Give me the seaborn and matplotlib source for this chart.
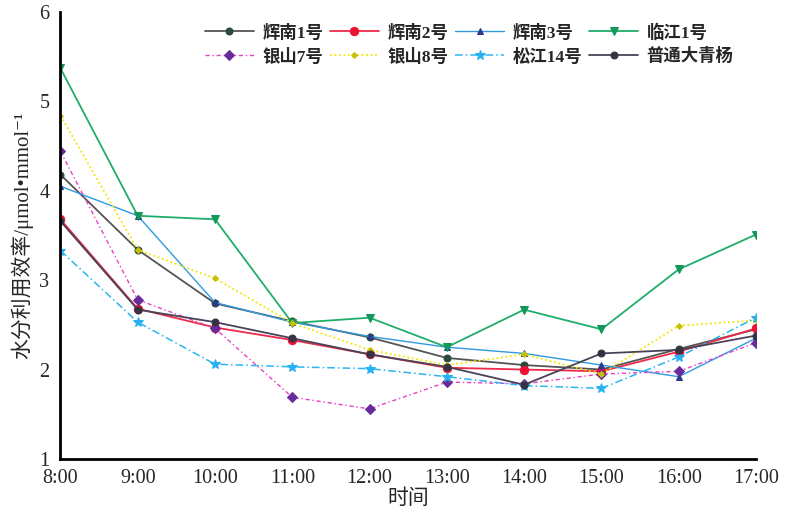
import matplotlib
matplotlib.use("Agg")
import matplotlib.pyplot as plt
import seaborn as sns
import pandas as pd

times = ["8:00", "9:00", "10:00", "11:00", "12:00", "13:00", "14:00", "15:00", "16:00", "17:00"]
hours = [8, 9, 10, 11, 12, 13, 14, 15, 16, 17]

huinan1 = [4.18, 3.34, 2.74, 2.54, 2.36, 2.13, 2.05, 2.00, 2.23, 2.45]
huinan2 = [3.68, 2.68, 2.47, 2.33, 2.17, 2.02, 2.00, 1.98, 2.20, 2.46]
huinan3 = [4.05, 3.72, 2.75, 2.53, 2.37, 2.25, 2.18, 2.05, 1.92, 2.35]
linjiang1 = [5.37, 3.72, 3.68, 2.52, 2.58, 2.25, 2.67, 2.45, 3.12, 3.51]
yinshan7 = [4.44, 2.78, 2.46, 1.69, 1.56, 1.86, 1.84, 1.95, 1.98, 2.30]
yinshan8 = [4.84, 3.34, 3.02, 2.52, 2.22, 2.05, 2.17, 1.95, 2.49, 2.55]
songjiang14 = [3.33, 2.53, 2.06, 2.03, 2.01, 1.92, 1.82, 1.79, 2.14, 2.58]
putong = [3.66, 2.67, 2.53, 2.35, 2.17, 2.03, 1.83, 2.18, 2.22, 2.38]

names = ["辉南1号", "辉南2号", "辉南3号", "临江1号", "银山7号", "银山8号", "松江14号", "普通大青杨"]
series = [huinan1, huinan2, huinan3, linjiang1, yinshan7, yinshan8, songjiang14, putong]

line_colors = ["#555555", "#ee2a4a", "#2e9be0", "#1fae6a", "#e83fc4", "#f2e600", "#29b6f2", "#4a4358"]
marker_colors = ["#2c4a3a", "#ee1133", "#2b3a8c", "#12995a", "#6a2a9a", "#c8c000", "#29b0f0", "#333344"]
markers = ["o", "o", "^", "v", "D", "D", "*", "o"]
msizes = [5, 6, 5, 6, 5, 3, 7, 5]
styles = ["-", "-", "-", "-", (0, (3, 2, 1, 2)), (0, (1, 1.5)), (0, (5, 2, 1, 2)), "-"]
lws = [1.3, 1.3, 1.0, 1.3, 1.0, 1.3, 1.1, 1.3]

sns.set_style("white")
plt.rcParams['font.family'] = ['Liberation Serif', 'Noto Sans CJK SC', 'DejaVu Sans']

fig = plt.figure(figsize=(7.85, 5.18), dpi=100)
ax = fig.add_axes([0.077, 0.114, 0.886, 0.863])

for name, vals, lc, mc, mk, ms, st, lw in zip(names, series, line_colors, marker_colors, markers, msizes, styles, lws):
    df = pd.DataFrame({"time": hours, "val": vals})
    sns.lineplot(data=df, x="time", y="val", ax=ax, color=lc, linewidth=lw,
                 marker=mk, markersize=ms, markerfacecolor=mc, markeredgecolor=mc,
                 linestyle=st, label=name)

ax.set_xlim(8, 17)
ax.set_ylim(1, 6)
ax.set_xticks(hours)
ax.set_xticklabels(times)
ax.set_yticks([1, 2, 3, 4, 5, 6])
ax.tick_params(axis='both', direction='in', length=4, width=1.2, labelsize=14.5)
ax.tick_params(axis='x', pad=7)
ax.tick_params(axis='y', pad=8)
for s in ["top", "right"]:
    ax.spines[s].set_visible(False)
for s in ["left", "bottom"]:
    ax.spines[s].set_linewidth(2)
    ax.spines[s].set_color("black")

ax.set_xlabel("时间", fontsize=15, labelpad=1)
ax.set_ylabel("水分利用效率/μmol•mmol⁻¹", fontsize=15, labelpad=4)

handles, labels = ax.get_legend_handles_labels()
order = [0, 4, 1, 5, 2, 6, 3, 7]
leg = ax.legend([handles[i] for i in order], [labels[i] for i in order],
                loc="upper right", bbox_to_anchor=(0.985, 1.0), ncol=4, frameon=False,
                handlelength=2.8, handletextpad=0.5, columnspacing=0.4,
                labelspacing=0.4, borderaxespad=0.3, prop={'weight': 'bold', 'size': 12.5})

fig.savefig("out.png", dpi=100)
